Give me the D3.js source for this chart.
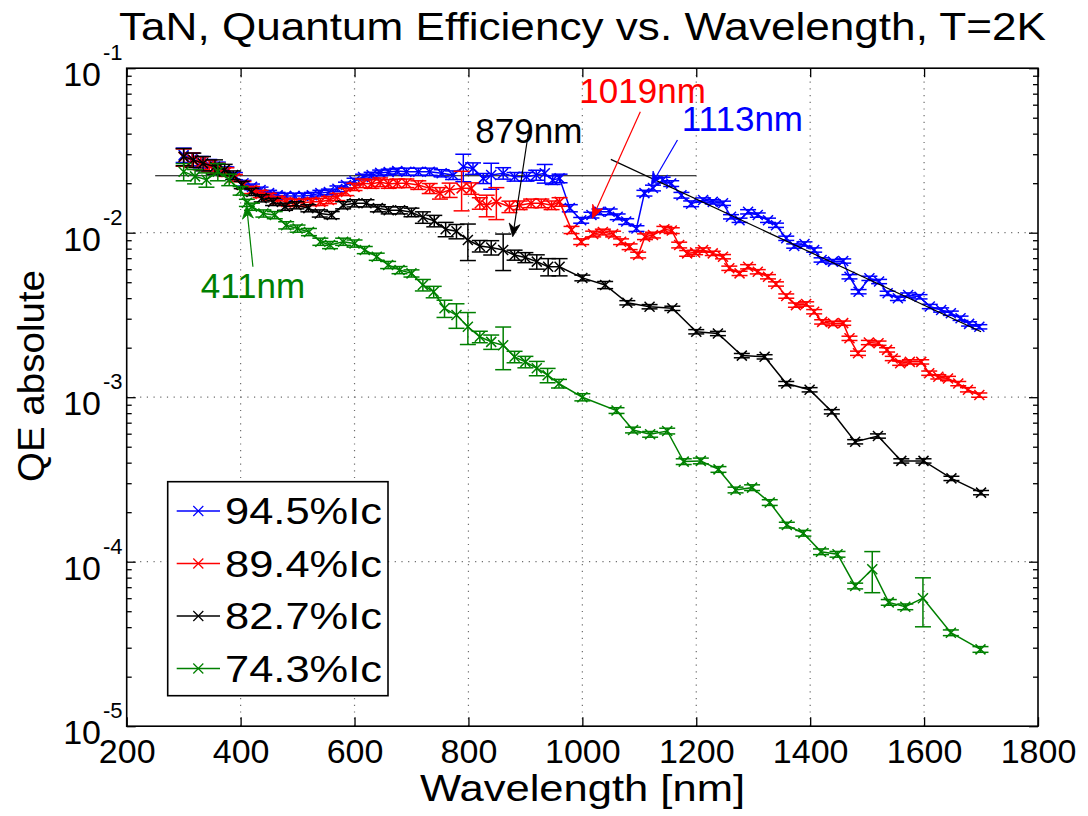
<!DOCTYPE html>
<html>
<head>
<meta charset="utf-8">
<script src="https://cdn.jsdelivr.net/npm/d3@7"></script>
<style>
body { margin: 0; background: #fff; }
text { font-family: "Liberation Sans", Arial, Helvetica, sans-serif; }
</style>
</head>
<body>
<div id="qeChart"></div>
<script>
// [wavelength nm, QE, relative error]
var qe945 = [[300,0.0297,.10],[315,0.0280,.09],[330,0.0269,.08],[345,0.0258,.08],[360,0.0251,.07],[375,0.0237,.06],[390,0.0221,.05],[405,0.0200,.04],[420,0.0190,.04],[435,0.0182,.04],[450,0.0174,.04],[465,0.0169,.04],[480,0.0167,.04],[495,0.0167,.04],[510,0.0167,.04],[525,0.0169,.04],[540,0.0174,.04],[555,0.0177,.04],[570,0.0185,.04],[585,0.0195,.04],[600,0.0206,.04],[615,0.0218,.04],[630,0.0224,.04],[645,0.0231,.04],[660,0.0234,.04],[675,0.0237,.04],[691,0.0235,.05],[712,0.0235,.05],[732,0.0235,.05],[753,0.0230,.05],[773,0.0224,.06],[791,0.0252,.19],[808,0.0246,.08],[826,0.0214,.07],[840,0.0224,.18],[861,0.0230,.08],[881,0.0219,.06],[902,0.0219,.06],[919,0.0224,.07],[934,0.0230,.13],[948,0.0209,.06],[960,0.0214,.06],[978,0.0141,.05],[998,0.0119,.04],[1016,0.0128,.04],[1030,0.0134,.04],[1048,0.0134,.04],[1062,0.0125,.04],[1077,0.0117,.04],[1095,0.0106,.04],[1109,0.0174,.04],[1124,0.0187,.04],[1141,0.0209,.04],[1156,0.0199,.04],[1174,0.0169,.04],[1191,0.0150,.04],[1212,0.0158,.03],[1229,0.0154,.03],[1247,0.0151,.03],[1261,0.0125,.03],[1276,0.0119,.03],[1291,0.0134,.03],[1308,0.0128,.03],[1326,0.0119,.03],[1340,0.0111,.03],[1358,0.00925,.03],[1372,0.0083,.03],[1390,0.00854,.03],[1407,0.00785,.03],[1420,0.00683,.03],[1440,0.00667,.03],[1458,0.00673,.03],[1469,0.0054,.03],[1485,0.00438,.03],[1504,0.00528,.03],[1521,0.00505,.03],[1536,0.00428,.03],[1554,0.00399,.03],[1572,0.00418,.03],[1592,0.00408,.03],[1610,0.00356,.03],[1630,0.00339,.03],[1647,0.00324,.03],[1664,0.00302,.03],[1679,0.00279,.03],[1697,0.00268,.03]];

var qe894 = [[300,0.0288,.12],[315,0.0277,.10],[330,0.0265,.09],[345,0.0254,.08],[360,0.0247,.07],[375,0.0234,.06],[390,0.0215,.05],[405,0.0195,.05],[420,0.0182,.05],[435,0.0172,.05],[450,0.0165,.05],[465,0.0158,.05],[480,0.0154,.05],[495,0.0152,.05],[510,0.0152,.05],[525,0.0154,.05],[540,0.0154,.05],[555,0.0158,.05],[570,0.0165,.05],[585,0.0177,.05],[600,0.0190,.05],[615,0.0200,.06],[630,0.0198,.06],[645,0.0203,.06],[660,0.0198,.06],[675,0.0200,.06],[691,0.0200,.06],[712,0.0195,.06],[732,0.0186,.07],[750,0.0174,.08],[767,0.0182,.10],[788,0.0186,.27],[805,0.0186,.08],[820,0.0151,.08],[832,0.0147,.15],[849,0.0154,.22],[872,0.0144,.08],[890,0.0147,.06],[910,0.0151,.06],[928,0.0151,.06],[946,0.0147,.06],[960,0.0154,.06],[981,0.0104,.05],[998,0.00882,.04],[1019,0.00982,.04],[1036,0.0101,.04],[1054,0.00982,.04],[1068,0.00882,.04],[1083,0.00822,.04],[1098,0.00732,.04],[1110,0.00946,.04],[1124,0.00968,.04],[1144,0.0105,.04],[1157,0.0103,.04],[1170,0.00842,.04],[1184,0.00749,.04],[1198,0.00758,.03],[1212,0.00785,.03],[1229,0.00749,.03],[1247,0.00715,.03],[1258,0.00608,.03],[1276,0.00566,.03],[1291,0.00621,.03],[1308,0.00579,.03],[1326,0.0054,.03],[1340,0.00488,.03],[1358,0.00412,.03],[1375,0.00363,.03],[1393,0.00369,.03],[1407,0.00331,.03],[1421,0.00287,.03],[1440,0.00281,.03],[1458,0.00282,.03],[1469,0.00228,.03],[1484,0.00185,.03],[1503,0.00215,.03],[1520,0.00213,.03],[1535,0.00194,.03],[1545,0.00172,.03],[1558,0.00161,.03],[1575,0.00164,.03],[1595,0.00164,.03],[1609,0.0014,.03],[1625,0.00133,.03],[1642,0.0013,.03],[1660,0.00121,.03],[1677,0.00111,.03],[1697,0.00103,.03]];

var qe827 = [[300,0.0290,.12],[317,0.0277,.10],[334,0.0264,.10],[355,0.0252,.10],[372,0.0241,.08],[387,0.0224,.06],[402,0.0195,.05],[419,0.0177,.05],[437,0.0162,.05],[457,0.0154,.05],[478,0.0144,.05],[498,0.0147,.05],[519,0.0141,.05],[539,0.0131,.05],[560,0.0128,.05],[580,0.0147,.05],[600,0.0151,.05],[621,0.0151,.05],[641,0.0141,.05],[660,0.0137,.05],[680,0.0137,.05],[700,0.0133,.06],[720,0.0124,.08],[740,0.0118,.08],[760,0.0105,.10],[779,0.0102,.10],[799,0.00903,.25],[820,0.0083,.08],[840,0.00813,.10],[861,0.00785,.25],[881,0.00732,.07],[900,0.00707,.07],[920,0.00667,.10],[940,0.00621,.12],[960,0.00621,.12],[1000,0.00531,.04],[1040,0.00481,.05],[1079,0.00375,.03],[1118,0.00355,.03],[1158,0.00347,.03],[1200,0.0025,.03],[1238,0.00244,.03],[1280,0.00179,.03],[1320,0.00176,.03],[1358,0.00121,.03],[1399,0.00111,.03],[1438,0.000816,.03],[1479,0.000536,.03],[1519,0.000581,.03],[1560,0.00041,.03],[1599,0.00041,.03],[1648,0.000321,.03],[1700,0.000263,.03]];

var qe743 = [[300,0.0235,.12],[320,0.0220,.10],[340,0.0210,.10],[360,0.0235,.12],[380,0.0210,.08],[400,0.0180,.06],[411,0.0152,.05],[420,0.0144,.05],[440,0.0131,.05],[460,0.0128,.05],[480,0.0111,.05],[500,0.0106,.05],[520,0.0101,.05],[540,0.00882,.05],[557,0.00842,.05],[580,0.00882,.05],[600,0.0086,.05],[618,0.00785,.05],[639,0.00715,.05],[659,0.00637,.05],[679,0.00593,.05],[700,0.00566,.05],[720,0.00481,.08],[739,0.00437,.08],[758,0.00347,.12],[779,0.00316,.17],[799,0.00268,.22],[820,0.00233,.08],[840,0.00217,.10],[861,0.00207,.29],[881,0.00176,.08],[900,0.00164,.08],[920,0.0015,.10],[939,0.00136,.10],[959,0.00121,.06],[1000,0.001,.05],[1060,0.00083,.04],[1089,0.000632,.04],[1119,0.000595,.04],[1149,0.000623,.04],[1178,0.000406,.04],[1208,0.00041,.04],[1239,0.000364,.04],[1269,0.000273,.04],[1298,0.000282,.04],[1329,0.000229,.04],[1359,0.000167,.04],[1388,0.000149,.04],[1419,0.000115,.04],[1448,0.000111,.04],[1479,0.0000712,.04],[1509,0.00009,.28],[1538,0.0000566,.04],[1567,0.0000532,.04],[1598,0.00006,.33],[1647,0.000037,.04],[1699,0.0000293,.04]];

var seriesData = [qe945, qe894, qe827, qe743];
var seriesNames = ["94.5%Ic", "89.4%Ic", "82.7%Ic", "74.3%Ic"];
var seriesColors = ["#0000ff", "#ff0000", "#000000", "#008000"];

var xTicks = [200, 400, 600, 800, 1000, 1200, 1400, 1600, 1800];
var yExponents = [-5, -4, -3, -2, -1];

// reference level and slope guide lines
var flatLine = [[250, 0.0222], [1200, 0.0222]];
var slopeLine = [[1050, 0.0279], [1700, 0.0025]];

// annotations: text, colour, text position, arrow tail, arrow head
var notes = [
    { label: "411nm", color: "#008000", at: [421.6, 0.00401], tail: [421.6, 0.00621], head: [410.5, 0.0146] },
    { label: "879nm", color: "#000000", at: [906, 0.0351], tail: [906, 0.0421], head: [877.7, 0.00946] },
    { label: "1019nm", color: "#ff0000", at: [1105.8, 0.0617], tail: [1101.8, 0.0544], head: [1017.5, 0.01223] },
    { label: "1113nm", color: "#0000ff", at: [1281, 0.0417], tail: [1167, 0.0366], head: [1121, 0.0195] }
];

var W = 1088, H = 816;
var box = { left: 126.7, right: 1038, top: 68.2, bottom: 726.2 };

var x = d3.scaleLinear().domain([200, 1800]).range([box.left, box.right]);
var y = d3.scaleLog().domain([1e-5, 1e-1]).range([box.bottom, box.top]);

var svg = d3.select("#qeChart").append("svg")
    .attr("width", W)
    .attr("height", H);

svg.append("rect").attr("width", W).attr("height", H).attr("fill", "#fff");

// dotted grid
var grid = svg.append("g");
grid.selectAll(".gx").data(xTicks.slice(1, -1)).enter().append("line")
    .attr("x1", function(d) { return x(d) }).attr("x2", function(d) { return x(d) })
    .attr("y1", box.top).attr("y2", box.bottom);
grid.selectAll(".gy").data(yExponents.slice(1, -1)).enter().append("line")
    .attr("x1", box.left).attr("x2", box.right)
    .attr("y1", function(d) { return y(Math.pow(10, d)) })
    .attr("y2", function(d) { return y(Math.pow(10, d)) });
grid.selectAll("line")
    .attr("stroke", "#6e6e6e")
    .attr("stroke-width", 1.2)
    .attr("stroke-dasharray", "1.2,5.5");

// axes with inward ticks
var minorVals = [];
yExponents.slice(0, -1).forEach(function(e) {
    for (var k = 2; k <= 9; k++) minorVals.push(k * Math.pow(10, e));
});
var majorVals = yExponents.map(function(e) { return Math.pow(10, e) });

var axes = svg.append("g").attr("class", "axes");
axes.append("g").attr("transform", "translate(0," + box.bottom + ")")
    .call(d3.axisBottom(x).tickValues(xTicks).tickSize(-9).tickPadding(13).tickFormat(d3.format("d")));
axes.append("g").attr("transform", "translate(0," + box.top + ")")
    .call(d3.axisTop(x).tickValues(xTicks).tickSize(-9).tickFormat(""));
axes.append("g").attr("transform", "translate(" + box.left + ",0)")
    .call(d3.axisLeft(y).tickValues(majorVals).tickSize(-9).tickFormat(""));
axes.append("g").attr("transform", "translate(" + box.left + ",0)")
    .call(d3.axisLeft(y).tickValues(minorVals).tickSize(-5).tickFormat(""));
axes.append("g").attr("transform", "translate(" + box.right + ",0)")
    .call(d3.axisRight(y).tickValues(majorVals).tickSize(-9).tickFormat(""));
axes.append("g").attr("transform", "translate(" + box.right + ",0)")
    .call(d3.axisRight(y).tickValues(minorVals).tickSize(-5).tickFormat(""));
axes.selectAll(".domain").remove();
axes.selectAll(".tick line").attr("stroke", "#000").attr("stroke-width", 1.3);
axes.selectAll(".tick text").attr("font-size", 34).attr("fill", "#000")
    .attr("font-family", "Liberation Sans, Arial, sans-serif");

// y tick labels as 10 with superscript exponent
var yLab = svg.append("g").selectAll("g").data(yExponents).enter().append("g")
    .attr("transform", function(d) { return "translate(101," + y(Math.pow(10, d)) + ")" });
yLab.append("text").attr("text-anchor", "end").attr("y", 18).attr("font-size", 34).text("10");
yLab.append("text").attr("x", 2).attr("y", -8).attr("font-size", 22).text(function(d) { return "-" + (-d) });

// plot box
svg.append("rect")
    .attr("x", box.left).attr("y", box.top)
    .attr("width", box.right - box.left).attr("height", box.bottom - box.top)
    .attr("fill", "none").attr("stroke", "#000").attr("stroke-width", 1.6);

// guide lines
var guide = d3.line().x(function(d) { return x(d[0]) }).y(function(d) { return y(d[1]) });
svg.append("path").datum(flatLine).attr("d", guide).attr("stroke", "#000").attr("stroke-width", 1.2).attr("fill", "none");

var cross = "M-5,-5L5,5M-5,5L5,-5";

function drawSeries(data, color) {
    var g = svg.append("g");
    var bars = g.selectAll(".ebar").data(data).enter().append("g")
        .attr("stroke", color).attr("stroke-width", 1.5);
    bars.append("line")
        .attr("x1", function(d) { return x(d[0]) }).attr("x2", function(d) { return x(d[0]) })
        .attr("y1", function(d) { return y(d[1] * (1 + d[2])) })
        .attr("y2", function(d) { return y(d[1] * (1 - d[2])) });
    bars.append("line")
        .attr("x1", function(d) { return x(d[0]) - 8 }).attr("x2", function(d) { return x(d[0]) + 8 })
        .attr("y1", function(d) { return y(d[1] * (1 + d[2])) })
        .attr("y2", function(d) { return y(d[1] * (1 + d[2])) });
    bars.append("line")
        .attr("x1", function(d) { return x(d[0]) - 8 }).attr("x2", function(d) { return x(d[0]) + 8 })
        .attr("y1", function(d) { return y(d[1] * (1 - d[2])) })
        .attr("y2", function(d) { return y(d[1] * (1 - d[2])) });

    g.append("path").datum(data).attr("d", guide)
        .attr("fill", "none").attr("stroke", color).attr("stroke-width", 1.5);

    g.selectAll(".mk").data(data).enter().append("path")
        .attr("d", cross)
        .attr("transform", function(d) { return "translate(" + x(d[0]) + "," + y(d[1]) + ")" })
        .attr("stroke", color).attr("stroke-width", 1.5).attr("fill", "none");
}

for (var i = 0; i < seriesData.length; i++) {
    drawSeries(seriesData[i], seriesColors[i]);
}

svg.append("path").datum(slopeLine).attr("d", guide).attr("stroke", "#000").attr("stroke-width", 1.2).attr("fill", "none");

// annotation arrows
function arrow(n) {
    var x0 = x(n.tail[0]), y0 = y(n.tail[1]), x1 = x(n.head[0]), y1 = y(n.head[1]);
    var ang = Math.atan2(y1 - y0, x1 - x0);
    var ca = Math.cos(ang), sa = Math.sin(ang);
    var len = 13, half = 5.5, notch = 9;
    svg.append("line")
        .attr("x1", x0).attr("y1", y0)
        .attr("x2", x1 - ca * notch).attr("y2", y1 - sa * notch)
        .attr("stroke", n.color).attr("stroke-width", 1.2);
    var bx = x1 - ca * len, by = y1 - sa * len;
    var pts = [
        [x1, y1],
        [bx - sa * half, by + ca * half],
        [x1 - ca * notch, y1 - sa * notch],
        [bx + sa * half, by - ca * half]
    ];
    svg.append("path")
        .attr("d", "M" + pts.join("L") + "Z")
        .attr("fill", n.color).attr("stroke", n.color).attr("stroke-width", 0.8);
    svg.append("text")
        .attr("x", x(n.at[0])).attr("y", y(n.at[1]))
        .attr("text-anchor", "middle")
        .attr("font-size", 35)
        .attr("fill", n.color)
        .text(n.label);
}
notes.forEach(arrow);

// legend
var legend = svg.append("g").attr("transform", "translate(167.7,481.7)");
legend.append("rect").attr("width", 220.3).attr("height", 214)
    .attr("fill", "#fff").attr("stroke", "#000").attr("stroke-width", 1.6);
var entry = legend.selectAll(".entry").data(seriesNames).enter().append("g")
    .attr("transform", function(d, i) { return "translate(0," + (42.3 + i * 52.5) + ")" });
entry.append("line").attr("x1", 9).attr("x2", 52.3).attr("y1", -13).attr("y2", -13)
    .attr("stroke", function(d, i) { return seriesColors[i] }).attr("stroke-width", 1.3);
entry.append("path").attr("d", cross).attr("transform", "translate(30.6,-13)")
    .attr("stroke", function(d, i) { return seriesColors[i] }).attr("stroke-width", 1.2).attr("fill", "none");
entry.append("text").attr("x", 57.3).attr("font-size", 37)
    .attr("textLength", 157).attr("lengthAdjust", "spacingAndGlyphs")
    .text(function(d) { return d });

// titles
svg.append("text").attr("x", 582.5).attr("y", 40).attr("text-anchor", "middle")
    .attr("font-size", 38).attr("textLength", 927).attr("lengthAdjust", "spacingAndGlyphs")
    .text("TaN, Quantum Efficiency vs. Wavelength, T=2K");
svg.append("text").attr("x", 582.5).attr("y", 801).attr("text-anchor", "middle")
    .attr("font-size", 37).attr("textLength", 325).attr("lengthAdjust", "spacingAndGlyphs")
    .text("Wavelength [nm]");
svg.append("text").attr("transform", "translate(44,376) rotate(-90)").attr("text-anchor", "middle")
    .attr("font-size", 37).attr("textLength", 212).attr("lengthAdjust", "spacingAndGlyphs")
    .text("QE absolute");
</script>
</body>
</html>
